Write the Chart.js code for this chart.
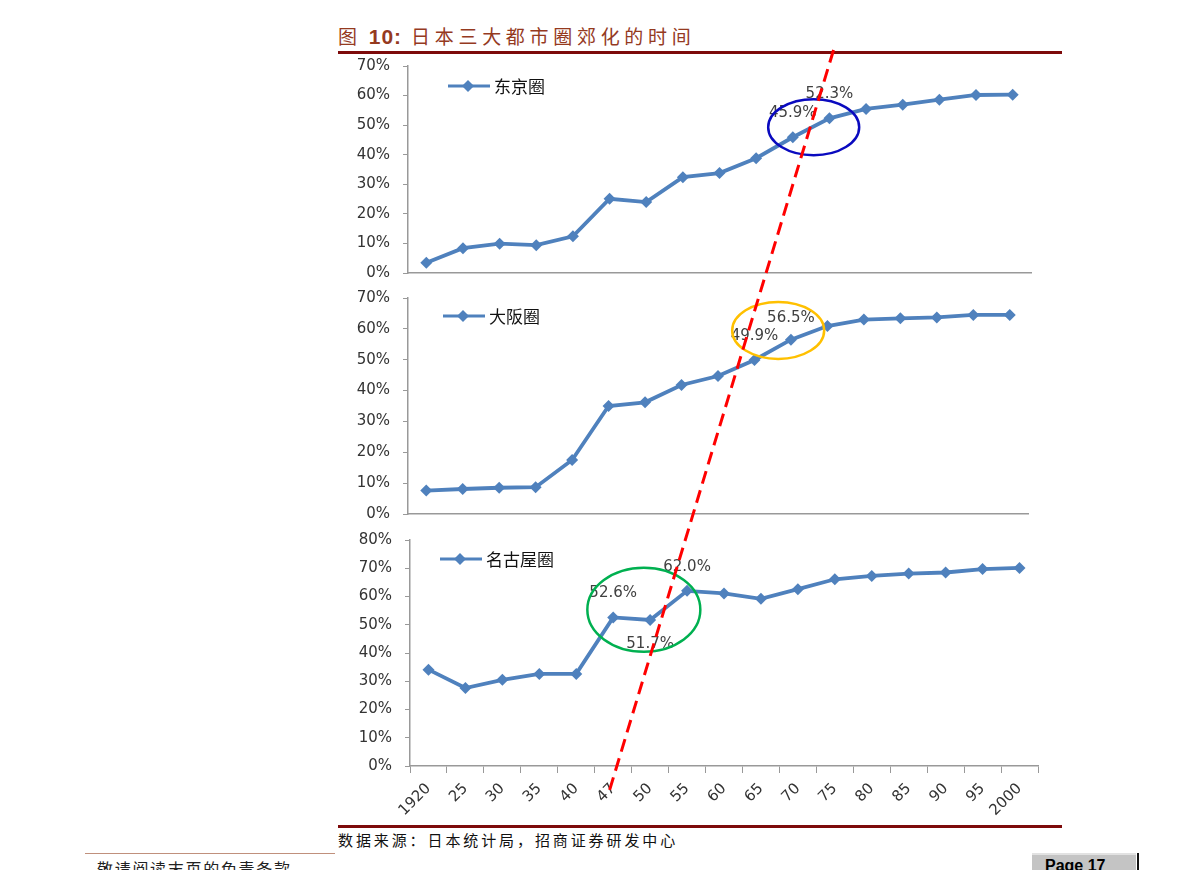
<!DOCTYPE html>
<html>
<head>
<meta charset="utf-8">
<script src="https://cdn.jsdelivr.net/npm/chart.js@4.4.1/dist/chart.umd.min.js"></script>
<style>
  body { margin: 0; background: #fff; width: 1190px; height: 870px; position: relative; overflow: hidden; font-family: "Noto Sans CJK SC", sans-serif; }
  .abs { position: absolute; }
  #title { left: 338px; top: 22px; font-size: 19px; line-height: 28px; color: #953a1f; letter-spacing: 4.7px; white-space: nowrap; }
  #title b { font-family: Arial, "Liberation Sans", sans-serif; font-size: 21px; font-weight: bold; letter-spacing: 1px; margin: 0 9px 0 7px; }
  .rule { left: 338px; width: 724px; height: 3px; background: #7d0a0a; }
  #source { left: 338px; top: 829px; font-size: 15px; line-height: 22px; letter-spacing: 2.9px; color: #111; white-space: nowrap; }
  #footline { left: 85px; top: 853px; width: 250px; height: 1px; background: #c0907c; }
  #foot { left: 97px; top: 858px; font-size: 16px; line-height: 20px; letter-spacing: 1.7px; color: #222; white-space: nowrap; }
  #page { left: 1032px; top: 853px; width: 104px; height: 17px; background: #c4c4c4; border-top: 2px solid #e2e2e2; }
  #page span { position: absolute; left: 13px; top: 2px; font: bold 16px Arial, "Liberation Sans", sans-serif; color: #000; }
  #pagebar { left: 1137px; top: 853px; width: 2px; height: 17px; background: #111; }
  canvas { position: absolute; }
  #overlay { left: 0; top: 0; pointer-events: none; }
</style>
</head>
<body>
<div id="title" class="abs">图<b>10:</b>日本三大都市圈郊化的时间</div>
<div class="abs rule" style="top:51px"></div>

<canvas id="c1" width="730" height="251" style="left:320px;top:44px"></canvas>
<canvas id="c2" width="730" height="260" style="left:320px;top:276px"></canvas>
<canvas id="c3" width="730" height="308" style="left:320px;top:518px"></canvas>

<div class="abs rule" style="top:825px"></div>
<div id="source" class="abs">数据来源：日本统计局，招商证券研发中心</div>
<div id="footline" class="abs"></div>
<div id="foot" class="abs">敬请阅读末页的免责条款</div>
<div id="page" class="abs"><span>Page 17</span></div>
<div id="pagebar" class="abs"></div>
<canvas id="overlay" width="1190" height="870"></canvas>

<script>
// years on the shared x axis
const years = ['1920', '25', '30', '35', '40', '47', '50', '55', '60', '65', '70', '75', '80', '85', '90', '95', '2000'];

// share of suburban population, %
const tokyo = [3.5, 8.4, 9.9, 9.4, 12.4, 25.1, 24.0, 32.4, 33.8, 38.8, 45.9, 52.3, 55.5, 56.9, 58.6, 60.2, 60.3];
const osaka = [7.6, 8.1, 8.5, 8.7, 17.5, 35.0, 36.2, 41.8, 44.7, 49.9, 56.5, 60.9, 63.0, 63.4, 63.7, 64.5, 64.5];
const nagoya = [34.1, 27.6, 30.5, 32.6, 32.6, 52.6, 51.7, 62.0, 61.1, 59.2, 62.6, 66.1, 67.3, 68.1, 68.5, 69.7, 70.1];

const blue = '#4f81bd';
const tickFont = { family: 'DejaVu Sans', size: 15 };

// labels, ring and legend drawn on top of each panel
const notes = {
    id: 'notes',
    afterDatasetsDraw(chart, args, o) {
        const ctx = chart.ctx;
        const xs = chart.scales.x, ys = chart.scales.y, area = chart.chartArea;
        const meta = chart.getDatasetMeta(0);
        const vals = chart.data.datasets[0].data;
        ctx.save();

        // value labels
        ctx.font = '15px "DejaVu Sans"';
        ctx.fillStyle = '#404040';
        ctx.textAlign = 'center';
        ctx.textBaseline = 'middle';
        o.tags.forEach(t => {
            const p = meta.data[t.i];
            ctx.fillText(vals[t.i].toFixed(1) + '%', p.x, p.y + t.dy);
        });

        // ring
        const r = o.ring;
        ctx.beginPath();
        ctx.ellipse(xs.getPixelForValue(r.at), ys.getPixelForValue(r.v), r.rx, r.ry, 0, 0, Math.PI * 2);
        ctx.strokeStyle = r.color;
        ctx.lineWidth = 2.5;
        ctx.stroke();

        // legend
        const lx = area.left + o.legend.dx, ly = area.top + o.legend.dy;
        ctx.strokeStyle = blue;
        ctx.lineWidth = 3;
        ctx.beginPath();
        ctx.moveTo(lx, ly);
        ctx.lineTo(lx + 42, ly);
        ctx.stroke();
        ctx.fillStyle = blue;
        ctx.beginPath();
        ctx.moveTo(lx + 20, ly - 6);
        ctx.lineTo(lx + 26, ly);
        ctx.lineTo(lx + 20, ly + 6);
        ctx.lineTo(lx + 14, ly);
        ctx.closePath();
        ctx.fill();
        ctx.font = '17px "Noto Sans CJK SC"';
        ctx.fillStyle = '#111';
        ctx.textAlign = 'left';
        ctx.fillText(o.legend.text, lx + 46, ly + 1);
        ctx.restore();
    }
};

function makePanel(id, name, values, cfg) {
    const ctx = document.getElementById(id).getContext('2d');
    return new Chart(ctx, {
        type: 'line',
        data: {
            labels: years,
            datasets: [{
                label: name,
                data: values,
                borderColor: blue,
                backgroundColor: blue,
                borderWidth: 3.8,
                pointStyle: 'rectRot',
                pointRadius: 6,
                pointBorderWidth: 0,
                tension: 0
            }]
        },
        options: {
            responsive: false,
            animation: false,
            layout: { padding: { top: 10, right: cfg.right, bottom: cfg.bottom, left: 0 } },
            plugins: {
                legend: { display: false },
                tooltip: { enabled: false },
                notes: { tags: cfg.tags, ring: cfg.ring, legend: { text: name, dx: cfg.lx, dy: cfg.ly } }
            },
            scales: {
                x: {
                    offset: true,
                    grid: { display: cfg.showX, offset: true, drawOnChartArea: false, tickLength: 7, color: '#999' },
                    border: { color: '#999', width: 1.5 },
                    ticks: {
                        display: cfg.showX, font: tickFont, color: '#333',
                        minRotation: 45, maxRotation: 45, autoSkip: false, padding: 7
                    },
                    afterFit: s => { s.height = cfg.xh; }
                },
                y: {
                    min: 0, max: cfg.max,
                    grid: { drawOnChartArea: false, tickLength: 5, color: '#999' },
                    border: { color: '#999', width: 1.5 },
                    ticks: { stepSize: 10, font: tickFont, color: '#333', padding: 13, callback: v => v + '%' },
                    afterFit: s => { s.width = cfg.yw; }
                }
            }
        },
        plugins: [notes]
    });
}

const c1 = makePanel('c1', '东京圈', tokyo, {
    max: 70, right: 19, bottom: 3, yw: 88, xh: 0, showX: false, lx: 40, ly: 20,
    tags: [{ i: 10, dy: -24 }, { i: 11, dy: -24 }],
    ring: { at: 10.57, v: 49.3, rx: 45.5, ry: 28, color: '#0a0abf' }
});
const c2 = makePanel('c2', '大阪圈', osaka, {
    max: 70, right: 22, bottom: 3, yw: 88, xh: 0, showX: false, lx: 35, ly: 18,
    tags: [{ i: 9, dy: -24 }, { i: 10, dy: -22 }],
    ring: { at: 9.65, v: 59.5, rx: 46, ry: 28.5, color: '#ffc000' }
});
const c3 = makePanel('c3', '名古屋圈', nagoya, {
    max: 80, right: 12, bottom: 0, yw: 90, xh: 60, showX: true, lx: 30, ly: 19,
    tags: [{ i: 5, dy: -24 }, { i: 6, dy: 24 }, { i: 7, dy: -24 }],
    ring: { at: 5.83, v: 55.3, rx: 56.5, ry: 42, color: '#00b050' }
});

// red dashed trend line across the three panels
function pagePoint(chart, idx, val) {
    const el = chart.canvas;
    return {
        x: el.offsetLeft + chart.scales.x.getPixelForValue(idx),
        y: el.offsetTop + chart.scales.y.getPixelForValue(val)
    };
}
const a = pagePoint(c1, 10.98, 70);
const b = pagePoint(c3, 5.1, 0);
const k = (b.x - a.x) / (b.y - a.y);
const ov = document.getElementById('overlay').getContext('2d');
ov.strokeStyle = '#ff0000';
ov.lineWidth = 3;
ov.setLineDash([13, 7]);
ov.beginPath();
ov.moveTo(a.x + k * (50 - a.y), 50);
ov.lineTo(a.x + k * (790 - a.y), 790);
ov.stroke();
</script>
</body>
</html>
